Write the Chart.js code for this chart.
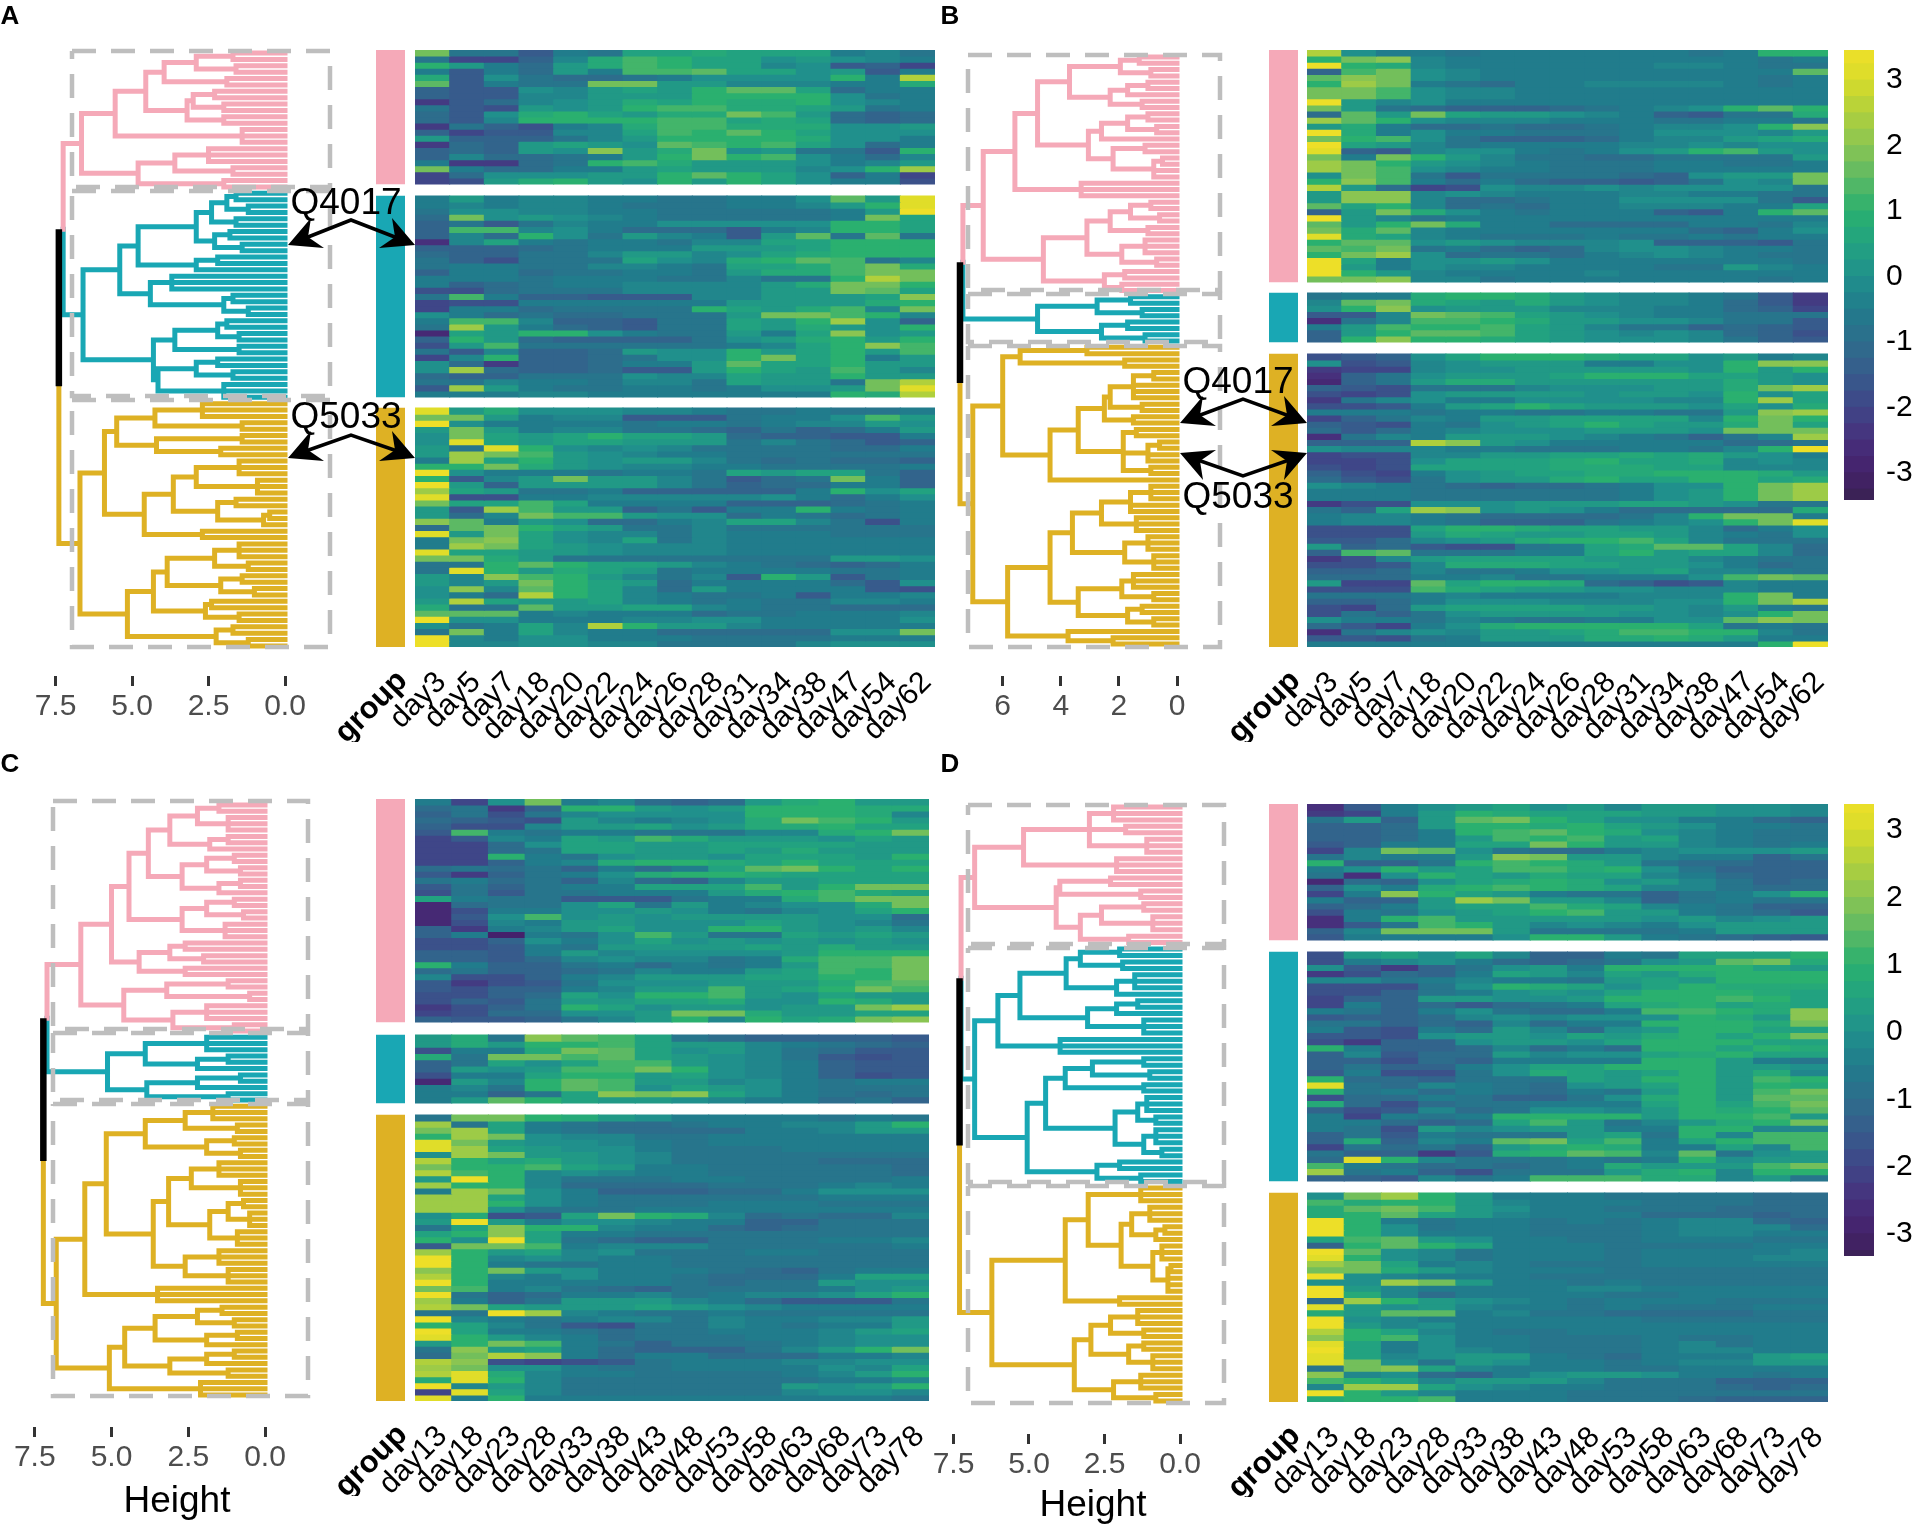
<!DOCTYPE html>
<html><head><meta charset="utf-8">
<style>
html,body{margin:0;padding:0;background:#fff;width:1912px;height:1528px;overflow:hidden;font-family:"Liberation Sans",sans-serif}
canvas{position:absolute}
.t{position:absolute;white-space:nowrap;transform:translate(-50%,-50%);color:#000;z-index:5}
svg{position:absolute;left:0;top:0;z-index:4}
</style>
<script src="https://cdn.jsdelivr.net/npm/chart.js@4"></script>
</head><body>
<script>
// ---------- labels ----------
const daysAB=['day3','day5','day7','day18','day20','day22','day24','day26','day28','day31','day34','day38','day47','day54','day62'];
const daysCD=['day13','day18','day23','day28','day33','day38','day43','day48','day53','day58','day63','day68','day73','day78'];
const legendTicks=[-3,-2,-1,0,1,2,3];
const ticksACD=[7.5,5,2.5,0];
const ticksB=[6,4,2,0];
// ---------- heat values: each letter is one cell, a = -3, m = 0, y = +3, in steps of 0.25 ----------
const A_pink=["tjjgkjoopoooklj","jeehlprqoomnmlk","qnkinprqoolmghe","kgkinkrrsoomngk","pgmjiijkmmmmqkw","sgkjjttnnlllkkp","hggmlnonqssoikk","hggllnnnqqqqmjk","dgilmnpoqppqmlk","jgfnmnqrrpponjk","igmpqonpptrnihi","iglqqqqrropoihi","djhfklprrpppmmn","heggllorqsqommm","nhhhjlnqqqqpmmk","dihnonmsrqromik","hihnmunptmnjjgq","hliijknqtqrmkil","kddijqrpnnnmkln","tkiikknonnnlmqv","eimmmnnqsqomhke","efnpqnmqnqomkkf"];
const A_teal=["knkllkkjjkkmsnx","klkllkjjjkklnqx","jmmllkkjjjjjkny","itmnmlkjjjjjkto","hjgjlkkmmmmmqqo","hrrlmkiiigklqqo","hliqmjnlkgnsjsj","clokjkkjllooqqq","hhhijkkknnnoqqq","ihhjjlnnlmopqqq","jhfjjjomlpqsrjl","jkkjjllkjooprtp","hkkijjkkjnpprtt","kkkjkkkjjljjqwt","khijkkllllnpttq","ffijjjllllnntso","jrkhhgggllnnnou","effkkkkkknnnnpq","ekkijjjjqonprlt","mkijiijjjnttrql","krrlhhgjjonqvmh","jvnkihgjjonpnmq","bonqqmkjjnkoumn","hqnihhhhjmnpqnq","fnrjjjjjjkloqur","jglhhinmmqnoqnr","elqhhijmmqtoqkn","midhhikknsooqnn","mvihhiggnqonrnl","ihhjjjmllonnqnn","jjlkkjlljonnjtw","gvnkjjkkjkmmntx","kkkllkkkkkkkqpw"];
const A_gold=["xnpmmmllkjjkjjk","ttnkllgggjkkmrn","ymkkkkjkkjkllnm","ntnklljjihjhikn","mtonoqoonihhggk","mxonoonnnjljigh","njxqmlmljjjjiik","nvtrnmlkkjjjjjj","kvoqnmnnljijiih","qqtpnmllkkjjjjk","ymkkkjkkjonoojh","qglntnnljgijtkh","ynhnnnnljhiikkh","vonjjkhhhhhkqmo","xffkklllllmkikm","toorokkkkhhhijk","ngvrnnhjgkkqkjk","niltrrnmmikjijk","usknmiiklooljfk","istqonjjljjjjjj","xntomlljlkkkjjj","ktuomlojlkkkkkk","kvtonmlllkkkkkk","xoonnmlllkkkkkk","ttpnjjjjjjjjnnm","jjqsqoonlkjihik","jxqnponjkkkkjjk","nlurqnljlgqngjk","nlntqonikkkkigm","mulsqolinkkkkgf","mkiwqolkjjkgkkl","nwonnolkjkjjllk","pjjsnnoolkjjiii","sssklkkkijjkkkl","ymmkkkllmmkkkkm","mjkolwqnnlkkkkk","jtkolkkiiiiimmt","ylkmmkkkjjjjkkk","yllmmlljjjjlmmm"];
const B_pink=["wmkkjkkkkkkjkqq","qtulkkkkkkkkkjk","yqplkkkkkkllkjj","hrtmlkkkkkkkkks","sutmlkkkkkkkkjk","qvtkjikkllllkjk","ttrmllkkkkkkkkk","ttrmllkkkkkkkkk","ynlmkkkkkkkkkkk","tnjihhhijklmqsq","isntonnmlkhgjjp","vsqmlllkkkjjkkj","npkiijiijkllmqu","ypkmkkjjjkmmmln","tqrmjhhhikllnop","yonljkkkkllmlmm","xhglmmkjkmnqrnm","tktqnljjiijjjjn","vtqnmlkjjjkkjjk","vtrmlkkjjjkkkkk","mtrjgjjjjihmnnt","qurkikihhghjmlt","wniefmllmlmmmmj","nuulmlkkkllkkjj","nuuliijkkmmmmjg","soqlijikklllkko","hntpmkjkkkhgkqs","ynljkkkkkkkkkkk","snqtpkkiiiikkjl","tpslkkkkkkkihkm","xpolkjjjkjjkjkk","qssmnmlllmhhhgj","srtjkihilmmlkkj","qtvmijjiklmlkjj","yokmmnmkkkkkkkj","ynkmllkkkkjjnlk","yqnlkkkklkkkkkk","ttulljkkkkkkkjk"];
const B_teal=["jkkpqqpnmllkjgd","lstponpnmllkigd","mqumnnnlllkkihe","ggltsronmlkkjjj","cjlrrqpnnmmljjg","knrqqronljjhihg","hnqssronmlmlihf","hquqqponmmmljhg"];
const B_gold=["fghmoqqqpoomnkl","mfglmnnnkkmmquu","deelmmnnnnnmqnq","chjmnnnoqqqoonm","bhjnppnnnnnnpnm","hgfjjjlmmmnnptv","fefmnnnnmnnmqmo","djlmkkmmmmllqvo","ffgknoqonnnmomp","kkkjkkjjkkjjnuv","ehjlknnoooolqtq","hgfkjmnoqonnpto","igiklmmmnnnmttt","cjlknnnmlkjhjlv","hhhwunmkkkkkiij","mlllkkjjjkkjlqy","effllnnoopopnmk","eefmooopqooplml","fefoooopppoolll","hfekmnooppqqqpn","igfjmnnpqooqqop","mlkjihiijkmmqtv","kkkjjjjjjkmnqtv","kkkjjjjjjkmnqtv","dffmmmnnnoonmjj","jhovumnmkiiiiip","kllkjiiiijlqttk","kllkjhhhjklmqtx","fffoqqpoonnlikm","fffnponnoonlkjm","ggilmnpqqroljjj","nhigffjkopssoli","hrsjjjkkoqnooli","dflnoooonnnlkjj","ffglpppoonnmkij","hhiljjkmmnollkj","iiikkljjkkkmrts","neesoqqpihfglkk","fffrponnmmlllkk","jjjklkkkklllqtk","hhikmmmlllmmqtw","feinoooonnmlnkj","fjhjmnnnnmmlmqt","mkkjlkjjkkmmsut","igekmpqqqqqojkj","cjlmlnnoprrqqlj","ggfjknnnppqpnkk","kkkkkkkkkkkkkqy"];
const C_pink=["kemtklihinpqnn","ijdhqqnmnqqqpp","hjfjlmmmmqqqpl","ihgfnlklmptrqn","hfflnnomnppqoo","grkjkkjjjllpqt","eglkonrpnnnmon","eeimoonnoooonn","eeijoonnonpnnn","eeqkjmnnmooonq","eehklpqqpoqooo","ijijhkikostqoq","gdhjkmpqqpoooo","jkijhlihlnnooo","gjhjkkooornqtt","fjgjjkkknpqrpo","okjjgggjkkprtt","bijjmojnklmmpt","bfkkmmnmkjlmoq","bgmrmnmnnnnmmi","bflknnmmmonmlj","hdklnommqqnmnl","hkakjmrnjjonon","ffhmkmomnmnmnm","ffgkjnnnnonpnn","hhgknlmmmmnqqq","hhgilmlljkprrt","qkhhjkikjknrrt","ijhhijlkknorqt","lffhklnnnooqqt","gdfgjmmmnnnprs","gfhhklnnrnoqtr","ffhiomqqrnmonn","fhgjnnoopmmqpn","dfhjqomnnmnntv","efiimmnttpnnoo","hgghjlnqlqoptu"];
const C_teal=["npjusrojihhhhg","npnqqronnlkjih","fkkptsomnljigg","pjttrsonmljgfg","hjomorrnmlkhgg","hnmnrrtqmlkhgg","fkkoqqnomlkhfg","bnlqsrnnlmkjkk","kljqsrmonmkjjj","kkhjoutuomkjij","knsqonnmlkkijh"];
const C_gold=["jttqpnmkkkkjkj","vjokjiijkkllnq","tvokjiiiikklnn","qvtmlljjkkkkkk","xtnmmlkjkkkkkk","xvonmmkjjjkkkk","mvtnnmljjjjjjj","wqopnmljjjjiii","tqqronkkjjjjji","wrqlmlkkjjjjji","nyqljjjkkjjjjk","vqqliiiijjjklk","kvtmkhhhiikmmm","vvomkjjjjjjkkk","vvqmkjjjkkkjjj","vvmjjjkkkkkkkk","mpfgotqplijiil","nynkmmlkkhhjjj","jouqqlkkihijjj","oquokkjjjjjjjj","qmyojihhjjjkkl","gttrkllljjjjjk","vqnolmjjjkkjjj","yqlmlkkjjjjjjj","yqkjjkkjjjjjjj","uqtnmkkkjihjkk","wqlkmkkjiiikoo","yqkkkkkjijjnmm","trkljihjjjjkmn","yjhikkljkllmoq","vkhjnnnlkigggj","wtonnnonmlkkkk","jjyvlkjjkjjjjj","ylkjklljlkklln","qoljgfjjlkjkkn","yokkjijjkkklno","xqnlkijjjkklmm","nqtrkjhjjjklmm","junokihhhjlnqt","itwukikkiiikkl","wufefgjkkkllmm","vtmmkjjkkkkmlo","wxplkkjjjjklnq","pxqljjjjjjjkkl","ylnljjjjjjnmnq","exoljjjjjjlmml","xkqkkkkkkkkkkj"];
const D_pink=["cgkmnomnlnnmml","deknqpooonnmml","jnhnstqommkkih","hhinqqpqonmkkj","hhikqrsqpmlkjj","hhiknrqrnolkjj","ghkkootqnnlkjk","eltsmjiiklmmmn","jlkknutnnlkkhj","qhhjqrqpnjiihh","kmqnorrpqmjhhh","jcmqonpoolkihh","bihmopqpmnljhi","hmkpqrqpolljii","ekuqonkjjhjkmq","khhnvtnnlhjkjj","hiknoorpolkjhh","fkjmnoqrnnkjig","ckqrnnnnnmnlmn","cgjrqnlmlkmnnn","hltttnjjjjknnn","gkkkkmqqnkjihg"];
const D_teal=["fnomolhhkjoooq","fklmkihijmnstp","mgdhjmnkqqqqon","dfihkonlonpqqq","lljklkkjnonqqq","fffjmqpomoqppp","ffhjkmnmoqqqpo","ehhnnmmnqqqrqo","ekhigijkopqopo","kjhkmjiikrrqpu","ghhilmlmmmqpnu","jjhihlikkqqqpt","kgfkinlimnqqoo","ggfmnnmonpqoqt","fdhhmnnmoqqqoo","qkhhilikiqqoqp","hlgiinlmmopqoo","hhfihkkkkqqnkj","hjhhkmooqqqnnm","gkffjmponoqnpl","qiihjjjonqqnrq","xjilkjimnoqnqp","qjkikjikjnqnrt","fiikjhhjmpqnss","pifijjkkkoqort","hfglijmmlnqpqs","kekjkqqqqnqqrn","kkihiornjlnpqt","kjfnlmnnkkqqll","hjgkjjjnojqlrr","hphlkstorkoqrr","ejijhnpqpkkolr","jhhdgpqsrlsjmn","ixqljjjkjkqmnn","rkjijijkpnnnrt","vjkhfjjjnpqlqq","hhgljkrrrpplnj"];
const D_gold=["mtvqnkkkjjjjii","rpqqnlkkkjjjii","pstrnmkkjjjiii","pqsonlkkkiiihi","yqkjkkjkjkllih","yqmjkkjjjkllli","yqmkkkjjjkllkk","orsnmkkjjkkkjj","hqsqokkkjjjjkk","ysmljkkkjkkkkl","xqmljkkkjkkkll","vtoklkjjjkkkkk","ttpnlkkkjjjjjj","ymlkkkjjjjjjjj","mmvtnkkjkjjjjj","ynlkkkkllkkkkk","yplikkkkjjkkkk","ivqnmlkjkkkjjj","xnmnlkkjkjjjkk","pnsskljjiiiijj","ymlkkkkkkjjjjj","ynlmkkkkkkkkkk","wqolkjjkkkkkkk","uqrmkkjjjkjjkk","xokmkkjjjkljkk","yokmlkjjjkllkk","xolmnnkjikkkno","xtmjnmkkjkllnn","jtuolkkkjjkkkk","ulmihkmnnmkkjk","rqolnnnljjjhhh","lvvomlkkjjjihi","yqnlkkkjjjjjjj","pqqrkkkjjjihhh"];
// ---------- dendrograms: a node is [height, child...]; a bare number n is n leaves joining at that node ----------
const tA_pink=[6.65,[5.55,[4.55,[3.95,[2.9,[1.7,2],[1.6,2]],[1.9,2]],[3.2,[3,[2.3,2],[2,2]],[2,2]]],[3.55,[1.4,3]]],[4.8,[3.6,[2.5,3],[1.7,2]],[2,2]]];
const tA_teal=[6.6,[5.4,[4.8,[3.95,[2.9,[2.4,[1.9,[1.6,2],[1.2,2]],[1.6,2]],[2.3,[1.8,2],[1.4,2]]]],[2.9,[2.2,2],1]],[4.4,[3.7,3],[2,[1.7,2],[1.2,2]]]],[4.3,[3.6,[2.2,[1.9,2],[1.5,2]],[1.5,2]],[4.15,[2.9,[2.2,2],[1.7,2]],[2.8,[2,3]]]]];
const tA_gold=[6.7,[5.9,[5.5,[4.25,[2.7,3],[1.4,2]],[4.2,[2.1,[1.4,2]],[2.1,2]]],[4.6,[3.65,[2.9,[1.5,3],[0.9,1,2]],[2.2,[1.6,2],[0.7,[0.5,2],1]]],[2.7,2]]],[5.15,[4.3,[3.85,[2.3,[1.5,3],[1.2,2]],[2.1,[1.4,2],[1,2]]],[2.6,[2.4,2],[1.5,2]]],[2.25,[1.7,2],[1.2,2]]]];
const tB_pink=[6.67,[5.58,[4.8,[3.7,[2.6,[1.95,[1.3,2],[0.9,2]]],[2.3,[1.7,[1,2],[0.8,1]],[1.2,2]]],[3.05,[2.6,[1.7,[1,2],[0.7,2]],[1.2,1]],[2.2,[1.1,2],[0.8,[0.5,2],2]]]],[3.3,3]],[4.6,[3.1,[2.3,[1.6,[0.9,2],[0.6,2]],[1,2]],[1.9,[1.1,3],[0.7,2]]],[2.5,[1.8,2],[1.9,2]]]];
const tB_teal=[4.8,[2.75,[1.6,2],[1.2,2]],[2.6,[1.7,2],[1.1,2]]];
const tB_gold=[7.03,[6,[5.4,[3.1,2],[1.8,2]],[4.37,[3.4,[2.5,[2.3,[1.5,[0.8,2],3],[1.2,2]],[1.5,2]],[1.85,[1.4,2],[1,[0.6,2],2],[0.9,2]]],[0.9,1]]],[5.83,[4.37,[3.6,[2.6,[1.6,[0.9,3],2],[1.4,3]],[1.8,[1,3],[0.8,3]]],[3.4,[1.9,[1.5,3],[0.8,2]],[1.7,[1.2,2],[0.8,2]]]],[3.75,[2.6,1],[2.2,2]]]];
const tC_pink=[6,[5,[4.43,[3.8,[3.1,[2.2,[1.5,2],[1.2,1,2]],[1.8,[1.2,2],1]],[2.7,[1.9,[1,2],[0.8,2]],[1.5,[0.8,2],1]]],[2.7,[1.9,[1,2],[0.7,2]],[1.3,3]]],[4.1,[3.1,[2.6,2],[2,2]],[2.6,2]]],[4.6,[3.2,[1.2,2],[0.8,[0.5,2]]],[3,[1.9,3],[1,2]]]];
const tC_teal=[5.13,[3.9,[2.9,[1.9,3]],[2.2,[1.2,2],[1,1]]],[3.85,[2.2,[0.8,2],1],[1.2,2]]];
const tC_gold=[6.8,[5.87,[5.17,[3.9,[2.6,[1.7,3],[0.9,2]],[1.9,[1,2],[0.8,2]]],[3.64,[3.14,[2.4,[1.5,3],[0.8,3]],[1.8,[1.2,[0.7,2],[0.5,3]],[0.9,3]]],[2.6,[1.5,3],[1.2,3]]]],[3.5,3]],[5.07,[4.57,[3.58,[2.2,[1.4,2],[1,2]],[1.9,[0.9,2],1]],[3.1,[1.9,[1,2],1],[1.2,2]]],[2.1,3]]];
const tD_pink=[6.8,[5.18,[3,[2.2,3],[1.8,2],[1.1,3]],[2.1,3]],[4.1,[3.98,[2.3,2],[1.3,2]],[3.3,[2.6,[1.2,2],[0.9,3]],[1.7,2]]]];
const tD_teal=[6.8,[6.03,[5.3,[3.77,[3.3,[2,2],[1.9,2]],[2.1,[1.5,3],1]],[3.06,[2.1,[1.4,2],1],[1.2,3]]],[3.97,3]],[5.06,[4.45,[3.8,[2.9,[1.2,2],[1,2]],[2.1,[1.2,2]]],[2.15,[1.4,[1.1,3],[0.8,2]],[1.2,[0.8,3],[0.6,2]]]],[2.75,[2,2],[1.3,2]]]];
const tD_gold=[6.23,[3.8,[3.04,[2.1,[1.3,3]],[1.95,[1.6,[1,3],[0.8,[0.5,2],1]],[0.9,[0.6,3],[0.4,[0.3,2],3]]]],[2,2]],[3.5,[2.95,[2.3,[1.4,3],[1.2,2]],[1.7,[1.2,2],[0.9,3]]],[2.2,[1.3,3],[0.8,2]]]];
// ---------- styles ----------
const GROUP_COLORS=['#f5a9b8','#19a7b4','#deb124'];
const GREY='#bebebe';
const STOPS=[[-3.45,'#38234f'],[-3,'#44216b'],[-2.5,'#47307c'],[-2,'#3f4688'],[-1.5,'#375b8c'],[-1,'#2d6d8c'],[-0.5,'#217c8c'],[0,'#20908c'],[0.5,'#22a280'],[1,'#2ab06f'],[1.5,'#5cb964'],[2,'#8ac552'],[2.5,'#b0d03c'],[3,'#d8dc2a'],[3.5,'#f2e028']];
function hex(c){return [1,3,5].map(i=>parseInt(c.substr(i,2),16));}
function colorOf(v){
  if(v<=STOPS[0][0])return STOPS[0][1];
  for(let i=1;i<STOPS.length;i++){if(v<=STOPS[i][0]){const t=(v-STOPS[i-1][0])/(STOPS[i][0]-STOPS[i-1][0]);const a=hex(STOPS[i-1][1]),b=hex(STOPS[i][1]);return 'rgb('+a.map((x,k)=>Math.round(x+(b[k]-x)*t)).join(',')+')';}}
  return STOPS[STOPS.length-1][1];
}
const letterValue=ch=>{const v=(ch.charCodeAt(0)-97)*0.25-3;return v>=2.75?v+0.4:v;};
// ---------- panel layouts (page pixels) ----------
const PANELS=[
 {id:'A',days:daysAB,rows:[A_pink,A_teal,A_gold],trees:[tA_pink,tA_teal,tA_gold],tickVals:ticksACD,tickFmt:v=>v.toFixed(1),
  x0:285,k:30.6,mid:7.25,root:7.39,left:40,right:340,tickTop:676,axisH:60,leaf:[53,646],
  box:[72,330],boxY:[51,189,398,647],groupX:[376,405],heatX:[415,935],bands:[[50,184],[196,397],[408,647]]},
 {id:'B',days:daysAB,rows:[B_pink,B_teal,B_gold],trees:[tB_pink,tB_teal,tB_gold],tickVals:ticksB,tickFmt:v=>String(v),
  x0:1177,k:29.05,mid:7.37,root:7.47,left:955,right:1230,tickTop:676,axisH:60,leaf:[57,644],
  box:[968,1220],boxY:[55,292,344,647],groupX:[1269,1298],heatX:[1307,1828],bands:[[50,282],[293,342],[354,647]],
  legend:{y:[50,500],range:[-3.415,3.46]}},
 {id:'C',days:daysCD,rows:[C_pink,C_teal,C_gold],trees:[tC_pink,tC_teal,tC_gold],tickVals:ticksACD,tickFmt:v=>v.toFixed(1),
  x0:265,k:30.7,mid:7.1,root:7.22,left:20,right:334,tickTop:1427,axisH:97,leaf:[805,1395],title:'Height',
  box:[53,308],boxY:[801,1031,1102,1396],groupX:[376,405],heatX:[415,929],bands:[[799,1022],[1035,1103],[1115,1401]]},
 {id:'D',days:daysCD,rows:[D_pink,D_teal,D_gold],trees:[tD_pink,tD_teal,tD_gold],tickVals:ticksACD,tickFmt:v=>v.toFixed(1),
  x0:1180,k:30.2,mid:7.25,root:7.3,left:955,right:1231,tickTop:1434,axisH:94,leaf:[807,1401],title:'Height',
  box:[968,1224],boxY:[805,946,1184,1403],groupX:[1269,1298],heatX:[1307,1828],bands:[[804,940],[952,1181],[1193,1402]],
  legend:{y:[804,1256],range:[-3.33,3.39]}}
];
const LEFT_PAD=90;
Chart.defaults.font.family='"Liberation Sans",sans-serif';
function place(x,y,w,h,cfg){
  const c=document.createElement('canvas');c.width=w;c.height=h;c.style.left=x+'px';c.style.top=y+'px';c.style.width=w+'px';c.style.height=h+'px';
  document.body.appendChild(c);
  cfg.options=Object.assign({responsive:false,animation:false,maintainAspectRatio:false,devicePixelRatio:1},cfg.options);
  cfg.options.plugins={legend:{display:false},tooltip:{enabled:false}};
  return new Chart(c,cfg);
}
function bottomAxis(labels,h,font,pad,shift){
  return {type:'category',labels,offset:true,grid:{display:false},border:{display:false},
    ticks:{color:'#000',font,minRotation:45,maxRotation:45,autoSkip:false,padding:pad,labelOffset:shift},
    afterFit:s=>{s.height=h;s.paddingLeft=0;s.paddingRight=0;}};
}
function heatChart(p){
  const top=p.bands[0][0],bot=p.bands[2][1],datasets=[];
  p.rows.forEach((rows,g)=>{
    const [b0,b1]=p.bands[g],h=(b1-b0)/rows.length;
    rows.forEach((row,i)=>{
      const cells=p.days.map((d,c)=>row[c]||row[row.length-1]);
      datasets.push({data:cells.map(()=>[b0+i*h,b0+(i+1)*h]),backgroundColor:cells.map(ch=>colorOf(letterValue(ch))),
        grouped:false,barPercentage:1,categoryPercentage:1,borderWidth:0,inflateAmount:0.5});
    });
  });
  const w=p.heatX[1]-p.heatX[0];
  place(p.heatX[0]-LEFT_PAD,top,w+LEFT_PAD+20,bot-top+95,{type:'bar',data:{labels:p.days,datasets},options:{
    layout:{padding:{left:LEFT_PAD,right:20,top:0,bottom:0}},
    scales:{x:bottomAxis(p.days,95,{size:30},10,9),y:{display:false,reverse:true,min:top,max:bot}}}});
}
function groupChart(p){
  const top=p.bands[0][0],bot=p.bands[2][1];
  const datasets=p.bands.map((b,g)=>({data:[[b[0],b[1]]],backgroundColor:GROUP_COLORS[g],grouped:false,barPercentage:1,categoryPercentage:1,borderWidth:0}));
  const w=p.groupX[1]-p.groupX[0];
  place(p.groupX[0]-LEFT_PAD,top,w+LEFT_PAD+20,bot-top+95,{type:'bar',data:{labels:['group'],datasets},options:{
    layout:{padding:{left:LEFT_PAD,right:20,top:0,bottom:0}},
    scales:{x:bottomAxis(['group'],95,{size:31,weight:'bold'},8,12),y:{display:false,reverse:true,min:top,max:bot}}}});
}
function countLeaves(n){if(typeof n==='number')return n;return n.slice(1).reduce((a,c)=>a+countLeaves(c),0);}
function buildTree(node,st,out){
  const h=node[0],ys=[];
  node.slice(1).forEach(ch=>{
    if(typeof ch==='number'){for(let i=0;i<ch;i++){const y=st.i++;ys.push(y);out.push({x:0,y},{x:h,y},{x:null,y:null});}}
    else{const r=buildTree(ch,st,out);ys.push(r.y);out.push({x:r.h,y:r.y},{x:h,y:r.y},{x:null,y:null});}
  });
  const a=ys[0],b=ys[ys.length-1];
  out.push({x:h,y:a},{x:h,y:b},{x:null,y:null});
  return {h,y:(a+b)/2};
}
function dendroChart(p){
  const total=p.trees.reduce((a,t)=>a+countLeaves(t),0);
  const spacing=(p.leaf[1]-p.leaf[0])/(total-1);
  const top=p.boxY[0]-6;
  const toY=px=>(px-p.leaf[0])/spacing, toX=px=>(p.x0-px)/p.k;
  const st={i:0},lines=[],roots=[];
  p.trees.forEach(t=>{const out=[];roots.push(buildTree(t,st,out));lines.push(out);});
  const midY=(roots[0].y+roots[1].y)/2;
  const rootMid=(midY+roots[2].y)/2;
  lines[0].push({x:roots[0].h,y:roots[0].y},{x:p.mid,y:roots[0].y},{x:p.mid,y:midY},{x:null,y:null});
  lines[1].push({x:roots[1].h,y:roots[1].y},{x:p.mid,y:roots[1].y},{x:p.mid,y:midY},{x:null,y:null});
  lines[2].push({x:roots[2].h,y:roots[2].y},{x:p.root,y:roots[2].y},{x:p.root,y:rootMid},{x:null,y:null});
  const ds=[];
  const boxLine=(y0,y1)=>{const [l,r]=p.box.map(toX);const a=toY(y0),b=toY(y1);return [{x:l,y:a},{x:r,y:a},{x:r,y:b},{x:l,y:b},{x:l,y:a}];};
  for(let i=0;i<3;i++){const y0=p.boxY[i]+(i?2:0),y1=p.boxY[i+1]-(i<2?2:0);
    ds.push({data:boxLine(y0,y1),borderColor:GREY,borderWidth:4.5,borderDash:[24,15],showLine:true,pointRadius:0,clip:false});}
  ds.push({data:[{x:p.root,y:midY},{x:p.root,y:rootMid}],borderColor:'#000',borderWidth:6.5,showLine:true,pointRadius:0,clip:false});
  lines.forEach((d,g)=>ds.push({data:d,borderColor:GROUP_COLORS[g],borderWidth:5,showLine:true,pointRadius:0,clip:false,spanGaps:false,borderJoinStyle:'miter',borderCapStyle:'square'}));
  const pad=30;
  place(p.left-pad,top,p.right-p.left+pad+10,p.tickTop-top+p.axisH,{type:'scatter',data:{datasets:ds},options:{
    layout:{padding:{left:pad,right:10,top:0,bottom:0}},
    scales:{
      x:{type:'linear',reverse:true,min:toX(p.right),max:toX(p.left),
        afterBuildTicks:s=>{s.ticks=p.tickVals.map(v=>({value:v}));},
        grid:{display:true,drawOnChartArea:false,drawTicks:true,tickLength:10,color:'#333',lineWidth:3},
        border:{display:false},
        ticks:{color:'#4d4d4d',font:{size:30},padding:3,autoSkip:false,maxRotation:0,minRotation:0,callback:v=>p.tickFmt(v)},
        title:p.title?{display:true,text:p.title,color:'#000',font:{size:37},padding:{top:0,bottom:0}}:{display:false},
        afterFit:s=>{s.height=p.axisH;s.paddingLeft=0;s.paddingRight=0;}},
      y:{display:false,reverse:true,min:toY(top),max:toY(p.tickTop)}}}});
}
function legendChart(p){
  const L=p.legend,[lo,hi]=L.range;
  const edges=[lo,-3.25,-3,-2.75,-2.5,-2.25,-2,-1.75,-1.5,-1.25,-1,-0.75,-0.5,-0.25,0,0.25,0.5,0.75,1,1.25,1.5,1.75,2,2.25,2.5,2.75,3,3.25,hi];
  const datasets=edges.slice(0,-1).map((e,i)=>({data:[[e,edges[i+1]]],backgroundColor:colorOf((e+edges[i+1])/2),grouped:false,barPercentage:1,categoryPercentage:1,borderWidth:0,inflateAmount:0.5}));
  place(1844,L.y[0],80,L.y[1]-L.y[0],{type:'bar',data:{labels:[''],datasets},options:{
    layout:{padding:0},
    scales:{x:{display:false},
      y:{position:'right',min:lo,max:hi,grid:{display:false},border:{display:false},
        afterBuildTicks:s=>{s.ticks=legendTicks.map(v=>({value:v}));},
        ticks:{color:'#000',font:{size:30},padding:4,autoSkip:false,callback:v=>String(v)},
        afterFit:s=>{s.width=50;s.paddingTop=0;s.paddingBottom=0;}}}}});
}
PANELS.forEach(p=>{dendroChart(p);groupChart(p);heatChart(p);if(p.legend)legendChart(p);});
// ---------- annotations ----------
const NS='http://www.w3.org/2000/svg';
const svg=document.createElementNS(NS,'svg');svg.setAttribute('width',1912);svg.setAttribute('height',1528);document.body.appendChild(svg);
function arrowPair(xl,xr,y,peakX,peakY,flip){
  const s=flip?-1:1;
  const line=document.createElementNS(NS,'polyline');
  line.setAttribute('points',`${xl+15},${y-6*s} ${peakX},${peakY} ${xr-15},${y-6*s}`);
  line.setAttribute('fill','none');line.setAttribute('stroke','#000');line.setAttribute('stroke-width',3.5);svg.appendChild(line);
  [[xl,1],[xr,-1]].forEach(([x,m])=>{
    const g=document.createElementNS(NS,'polygon');
    g.setAttribute('points',`${x},${y} ${x+m*23},${y-27*s} ${x+m*20},${y-8*s} ${x+m*36},${y+3*s}`);
    g.setAttribute('fill','#000');svg.appendChild(g);
  });
}
arrowPair(288,415,245,351,220,false);
arrowPair(288,415,458,351,435,false);
arrowPair(1180,1307,423,1243,399,false);
arrowPair(1180,1307,453,1243,476,true);
function label(txt,x,y,css){const d=document.createElement('div');d.className='t';d.textContent=txt;d.style.left=x+'px';d.style.top=y+'px';Object.assign(d.style,css);document.body.appendChild(d);}
const big={fontSize:'37px'},letter={fontSize:'26px',fontWeight:'bold'};
label('Q4017',346,202,big);label('Q5033',346,416,big);label('Q4017',1238,381,big);label('Q5033',1238,496,big);
label('A',10,15,letter);label('B',950,15,letter);label('C',10,763,letter);label('D',950,763,letter);
</script>
</body></html>
